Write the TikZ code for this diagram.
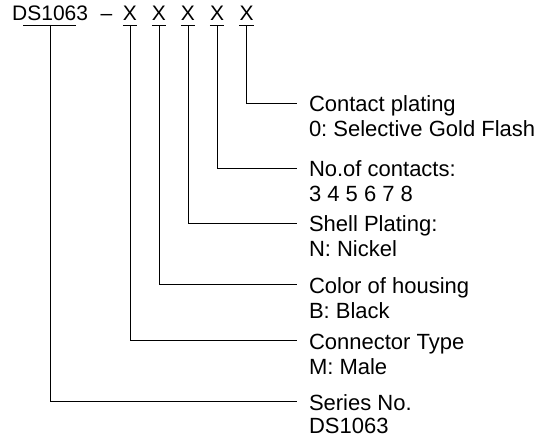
\documentclass[tikz,border=0pt]{standalone}
\usepackage{fontspec}
\setmainfont{Liberation Sans}
\usetikzlibrary{positioning}
\frenchspacing

\tikzset{
  code/.style={font=\fontsize{21}{25}\selectfont, inner sep=0pt, anchor=base},
  digit/.style={code, minimum width=13pt, text depth=4pt},
  lbl/.style={font=\fontsize{22}{25}\selectfont, inner xsep=0pt, inner ysep=0pt,
    outer xsep=12pt, text height=20pt, text depth=2pt, anchor=west},
  val/.style={lbl, anchor=base west},
  leader/.style={line width=0.8pt}
}

\begin{document}
\begin{tikzpicture}[x=1pt, y=-1pt]
    % Define frame
    \useasboundingbox (0,0) rectangle (551,438);

    % Part number
    \node[code, anchor=base west] (ds) at (12,21) {DS1063};
    \node[code] (dash) at (106.5,21) {--};
    \node[digit] (x1) at (130,21) {X};
    \node[digit] (x2) at (159,21) {X};
    \node[digit] (x3) at (188,21) {X};
    \node[digit] (x4) at (217,21) {X};
    \node[digit] (x5) at (246.5,21) {X};

    % Underlines
    \coordinate (u0) at (50,25);
    \draw[leader] ([xshift=-27pt]u0) -- ([xshift=26pt]u0);
    \draw[leader] (x1.south west) -- (x1.south east);
    \draw[leader] (x2.south west) -- (x2.south east);
    \draw[leader] (x3.south west) -- (x3.south east);
    \draw[leader] (x4.south west) -- (x4.south east);
    \draw[leader] (x5.south west) -- (x5.south east);

    % Descriptions
    \node[lbl] (t5) at (297,103) {Contact plating};
    \node[val] (v5) at ([yshift=-25pt]t5.base west) {0: Selective Gold Flash};
    \node[lbl] (t4) at (297,168) {No.of contacts:};
    \node[val] (v4) at ([yshift=-25pt]t4.base west) {3 4 5 6 7 8};
    \node[lbl] (t3) at (297,223) {Shell Plating:};
    \node[val] (v3) at ([yshift=-25pt]t3.base west) {N: Nickel};
    \node[lbl] (t2) at (297,284) {Color of housing};
    \node[val] (v2) at ([yshift=-25pt]t2.base west) {B: Black};
    \node[lbl] (t1) at (297,340) {Connector Type};
    \node[val] (v1) at ([yshift=-25pt]t1.base west) {M: Male};
    \node[lbl] (t0) at (297,401) {Series No.};
    \node[val] (v0) at ([yshift=-23pt]t0.base west) {DS1063};

    % Leaders
    \draw[leader] (x5.south) |- (t5.west);
    \draw[leader] (x4.south) |- (t4.west);
    \draw[leader] (x3.south) |- (t3.west);
    \draw[leader] (x2.south) |- (t2.west);
    \draw[leader] (x1.south) |- (t1.west);
    \draw[leader] (u0) |- (t0.west);
\end{tikzpicture}
\end{document}
